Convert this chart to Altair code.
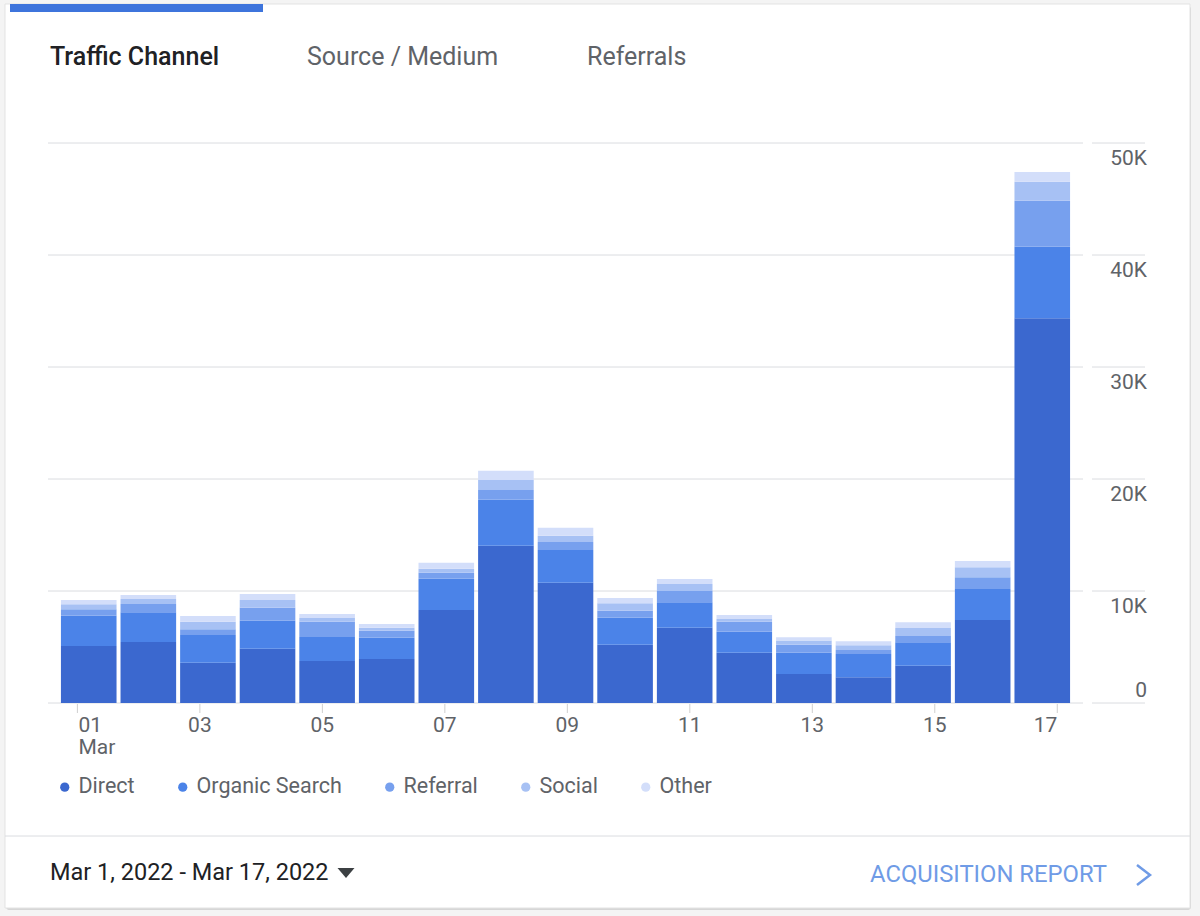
import altair as alt
import pandas as pd

# Daily sessions by traffic channel, 1-17 March 2022
days = list(range(1, 18))
channels = ["Direct", "Organic Search", "Referral", "Social", "Other"]
colors = ["#3b68cf", "#4b83e8", "#77a0ee", "#a7c1f4", "#d3defa"]

direct = [5090, 5450, 3600, 4850, 3750, 3930, 8300, 14040, 10740, 5210, 6720, 4490, 2590, 2290, 3330, 7410, 34350]
organic = [2700, 2650, 2470, 2500, 2140, 1900, 2800, 4110, 2920, 2410, 2270, 1880, 1900, 2080, 2090, 2770, 6390]
referral = [570, 740, 510, 1160, 1370, 630, 530, 870, 710, 620, 1010, 890, 710, 360, 560, 1040, 4110]
social = [450, 450, 680, 690, 330, 260, 360, 890, 560, 660, 630, 240, 390, 420, 710, 890, 1700]
other = [390, 360, 510, 530, 360, 330, 540, 830, 710, 470, 450, 360, 290, 360, 510, 560, 870]

y_ticks = [0, 10000, 20000, 30000, 40000, 50000]
y_tick_labels = ["0", "10K", "20K", "30K", "40K", "50K"]
x_tick_days = [1, 3, 5, 7, 9, 11, 13, 15, 17]
x_tick_labels = ["01\nMar", "03", "05", "07", "09", "11", "13", "15", "17"]

tabs = ["Traffic Channel", "Source / Medium", "Referrals"]
date_range = "Mar 1, 2022 - Mar 17, 2022"
report_link = "ACQUISITION REPORT"

W, H = 1035, 560
FONT = "Roboto"
GRID = "#dadce0"
TEXT_GRAY = "#5f6368"

series = [direct, organic, referral, social, other]
rows = []
for rank, (name, vals) in enumerate(zip(channels, series)):
    for d, v in zip(days, vals):
        rows.append({"day": d, "channel": name, "value": v, "rank": rank})
df = pd.DataFrame(rows)

ticks_df = pd.DataFrame({"v": y_ticks, "label": y_tick_labels})
xticks_df = pd.DataFrame({"d": x_tick_days, "label": x_tick_labels})
one = pd.DataFrame({"k": [0]})

yscale = alt.Scale(domain=[0, 50000], nice=False, zero=True)
tick_x = alt.X("d:Q", scale=alt.Scale(domain=[0.52, 17.42], nice=False, zero=False), axis=None)

# card background and shadow
shadow = alt.Chart(one).mark_rect(color="#d6d6d6", cornerRadius=3).encode(
    x=alt.value(-42), x2=alt.value(1143), y=alt.value(-137), y2=alt.value(767))
card = alt.Chart(one).mark_rect(fill="white", stroke="#e3e3e3", strokeWidth=1).encode(
    x=alt.value(-43), x2=alt.value(1142), y=alt.value(-139), y2=alt.value(765))
tab_bar = alt.Chart(one).mark_rect(color="#3d74dc").encode(
    x=alt.value(-38), x2=alt.value(215), y=alt.value(-139), y2=alt.value(-131))
footer_rule = alt.Chart(one).mark_rule(color=GRID, strokeWidth=1).encode(
    x=alt.value(-43), x2=alt.value(1142), y=alt.value(693))

tab_active = alt.Chart(one).mark_text(
    text=tabs[0], font=FONT, fontSize=25, fontWeight=500, color="#202124", align="left"
).encode(x=alt.value(2), y=alt.value(-86))
tab_2 = alt.Chart(one).mark_text(
    text=tabs[1], font=FONT, fontSize=25, color=TEXT_GRAY, align="left"
).encode(x=alt.value(259), y=alt.value(-86))
tab_3 = alt.Chart(one).mark_text(
    text=tabs[2], font=FONT, fontSize=25, color=TEXT_GRAY, align="left"
).encode(x=alt.value(539), y=alt.value(-86))

# gridlines across the plot and short segments under the value labels
grid = alt.Chart(ticks_df).mark_rule(color=GRID, strokeWidth=1).encode(
    y=alt.Y("v:Q", scale=yscale, axis=None), x=alt.value(0), x2=alt.value(W))
grid_side = alt.Chart(ticks_df).mark_rule(color=GRID, strokeWidth=1).encode(
    y=alt.Y("v:Q", scale=yscale, axis=None), x=alt.value(1044), x2=alt.value(1097))

ylab_top = alt.Chart(ticks_df).transform_filter("datum.v > 0").mark_text(
    font=FONT, fontSize=21, color=TEXT_GRAY, align="right", baseline="alphabetic", dy=22
).encode(y=alt.Y("v:Q", scale=yscale, axis=None), x=alt.value(1099), text="label:N")
ylab_zero = alt.Chart(ticks_df).transform_filter("datum.v == 0").mark_text(
    font=FONT, fontSize=21, color=TEXT_GRAY, align="right", baseline="alphabetic", dy=-6
).encode(y=alt.Y("v:Q", scale=yscale, axis=None), x=alt.value(1099), text="label:N")

bars = alt.Chart(df).mark_bar().encode(
    x=alt.X("day:O", axis=None, scale=alt.Scale(paddingInner=0.067, paddingOuter=0.217)),
    y=alt.Y("value:Q", stack="zero", scale=yscale, axis=None),
    color=alt.Color(
        "channel:N",
        scale=alt.Scale(domain=channels, range=colors),
        legend=alt.Legend(
            title=None, orient="none", legendX=6, legendY=633, direction="horizontal",
            symbolType="circle", symbolSize=85, symbolStrokeWidth=0,
            labelFont=FONT, labelFontSize=21.5, labelColor=TEXT_GRAY,
            labelOffset=3, columnPadding=37,
        ),
        sort=channels,
    ),
    order=alt.Order("rank:Q", sort="ascending"),
)

# date ticks: first label flush left, last flush right, the rest centred
xticks = alt.Chart(xticks_df).mark_rule(color="#cfcfcf", strokeWidth=1).encode(
    x=tick_x, y=alt.value(561), y2=alt.value(570))


def tick_labels(test, align, dx):
    return alt.Chart(xticks_df).transform_filter(test).mark_text(
        font=FONT, fontSize=21, color=TEXT_GRAY, align=align, baseline="alphabetic",
        lineBreak="\n", lineHeight=22, dx=dx
    ).encode(x=tick_x, y=alt.value(589), text="label:N")


xlab_first = tick_labels("datum.d == 1", "left", 1)
xlab_mid = tick_labels("datum.d > 1 && datum.d < 17", "center", 0)
xlab_last = tick_labels("datum.d == 17", "right", 0)

date_text = alt.Chart(one).mark_text(
    text=date_range, font=FONT, fontSize=23.5, color="#202124", align="left"
).encode(x=alt.value(2), y=alt.value(730))
caret = alt.Chart(one).mark_point(
    shape="M-1,-0.59L1,-0.59L0,0.59Z", size=289, filled=True, color="#3c4043", opacity=1
).encode(x=alt.value(298), y=alt.value(730))
report_text = alt.Chart(one).mark_text(
    text=report_link, font=FONT, fontSize=23.8, color="#6f9be6", align="left"
).encode(x=alt.value(822), y=alt.value(732))
chevron = alt.Chart(one).mark_point(
    shape="M-0.65,-1L0.65,0L-0.65,1", size=400, filled=False, color="#6f9be6",
    strokeWidth=2.5, opacity=1
).encode(x=alt.value(1095.5), y=alt.value(732))

chart = alt.layer(
    shadow, card, tab_bar, footer_rule, tab_active, tab_2, tab_3,
    grid, grid_side, ylab_top, ylab_zero, bars, xticks, xlab_first, xlab_mid, xlab_last,
    date_text, caret, report_text, chevron,
).resolve_scale(x="independent").properties(
    width=W, height=H,
    autosize=alt.AutoSizeParams(type="none"),
    padding={"left": 48, "top": 143, "right": 117, "bottom": 213},
    background="#f4f4f4",
).configure_view(stroke=None)

chart.save("out.html", embed_options={"renderer": "svg", "actions": False})
